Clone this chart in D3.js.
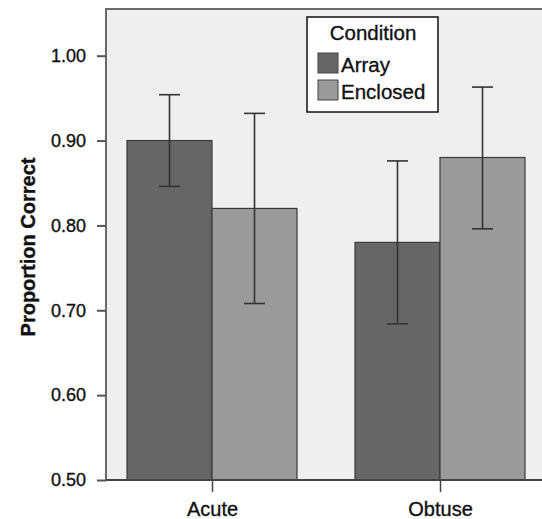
<!DOCTYPE html>
<html>
<head>
<meta charset="utf-8">
<script src="https://cdn.jsdelivr.net/npm/d3@7"></script>
<style>
  body { margin: 0; background: #fff; }
  text { font-family: "Liberation Sans", Arial, sans-serif; fill: #111; stroke: #111; stroke-width: 0.35px; }
</style>
</head>
<body>
<script>
var categories = ['Acute', 'Obtuse'];
var conditions = ['Array', 'Enclosed'];
var means = [[0.90, 0.82], [0.78, 0.88]];
var lower = [[0.846, 0.708], [0.684, 0.796]];
var upper = [[0.954, 0.932], [0.876, 0.963]];
var yTicks = [0.50, 0.60, 0.70, 0.80, 0.90, 1.00];

var svgWidth = 542;
var svgHeight = 519;
var plotLeft = 106, plotTop = 9, plotBottom = 480, plotRight = 546;

var svg = d3.select('body')
    .append('svg')
    .attr('width', svgWidth)
    .attr('height', svgHeight);

var y = d3.scaleLinear().domain([0.5, 1.055]).range([plotBottom, plotTop]);
var x = d3.scalePoint().domain(categories).range([212, 440]);
var xSub = d3.scaleBand().domain(conditions).range([-85, 85]);
var color = d3.scaleOrdinal().domain(conditions).range(['#666666', '#9a9a9a']);

// plot background + frame
svg.append('rect')
    .attr('x', plotLeft).attr('y', plotTop)
    .attr('width', plotRight - plotLeft).attr('height', plotBottom - plotTop)
    .attr('fill', '#efefef')
    .attr('stroke', '#6a6a6a')
    .attr('stroke-width', 2);

var rows = [];
categories.forEach(function (c, i) {
    conditions.forEach(function (k, j) {
        rows.push({cat: c, cond: k, mean: means[i][j], lo: lower[i][j], hi: upper[i][j]});
    });
});

var g = svg.append('g');

g.selectAll('rect.bar')
    .data(rows)
    .enter()
    .append('rect')
        .attr('class', 'bar')
        .attr('x', function (d) { return x(d.cat) + xSub(d.cond); })
        .attr('y', function (d) { return y(d.mean); })
        .attr('width', xSub.bandwidth())
        .attr('height', function (d) { return y(0.5) - y(d.mean); })
        .attr('fill', function (d) { return color(d.cond); })
        .attr('stroke', '#3a3a3a')
        .attr('stroke-width', 1.2);

// error bars
var err = g.selectAll('g.err')
    .data(rows)
    .enter()
    .append('g')
    .attr('class', 'err')
    .attr('transform', function (d) {
        return 'translate(' + (x(d.cat) + xSub(d.cond) + xSub.bandwidth() / 2) + ',0)';
    });
err.append('line')
    .attr('x1', 0).attr('x2', 0)
    .attr('y1', function (d) { return y(d.lo); })
    .attr('y2', function (d) { return y(d.hi); });
err.append('line')
    .attr('x1', -10.5).attr('x2', 10.5)
    .attr('y1', function (d) { return y(d.lo); })
    .attr('y2', function (d) { return y(d.lo); });
err.append('line')
    .attr('x1', -10.5).attr('x2', 10.5)
    .attr('y1', function (d) { return y(d.hi); })
    .attr('y2', function (d) { return y(d.hi); });
err.selectAll('line')
    .attr('stroke', '#333')
    .attr('stroke-width', 1.6);

// y axis
var yAxis = svg.append('g')
    .attr('transform', 'translate(' + plotLeft + ',0)')
    .call(d3.axisLeft(y).tickValues(yTicks).tickFormat(d3.format('.2f')).tickSize(9).tickPadding(11));
yAxis.select('.domain').remove();
yAxis.selectAll('line').attr('stroke', '#555').attr('stroke-width', 2);
yAxis.selectAll('text')
    .style('font-size', '18px')
    .style('font-family', '"Liberation Sans", Arial, sans-serif');

// x axis
var xAxis = svg.append('g')
    .attr('transform', 'translate(0,' + plotBottom + ')')
    .call(d3.axisBottom(x).tickSize(12).tickPadding(10));
xAxis.select('.domain').remove();
xAxis.selectAll('line').attr('stroke', '#444').attr('stroke-width', 1.5);
xAxis.selectAll('text')
    .style('font-size', '20px')
    .style('font-family', '"Liberation Sans", Arial, sans-serif');

svg.append('line')
    .attr('x1', plotLeft).attr('x2', plotRight)
    .attr('y1', plotBottom).attr('y2', plotBottom)
    .attr('stroke', '#444').attr('stroke-width', 2);

// y title
svg.append('text')
    .attr('transform', 'translate(35,247) rotate(-90)')
    .attr('text-anchor', 'middle')
    .style('font-size', '20px')
    .style('font-weight', 'bold')
    .text('Proportion Correct');

// legend
var lg = svg.append('g').attr('transform', 'translate(307,17)');
lg.append('rect')
    .attr('width', 131).attr('height', 95)
    .attr('fill', '#fff')
    .attr('stroke', '#111')
    .attr('stroke-width', 1.5);
lg.append('text')
    .attr('x', 66).attr('y', 23)
    .attr('text-anchor', 'middle')
    .style('font-size', '20.5px')
    .text('Condition');
var items = lg.selectAll('g.item')
    .data(conditions)
    .enter()
    .append('g')
    .attr('class', 'item')
    .attr('transform', function (d, i) { return 'translate(11,' + (36 + i * 27) + ')'; });
items.append('rect')
    .attr('width', 20).attr('height', 20)
    .attr('fill', function (d) { return color(d); })
    .attr('stroke', '#444');
items.append('text')
    .attr('x', 23).attr('y', 19)
    .style('font-size', '20.5px')
    .text(function (d) { return d; });
</script>
</body>
</html>
